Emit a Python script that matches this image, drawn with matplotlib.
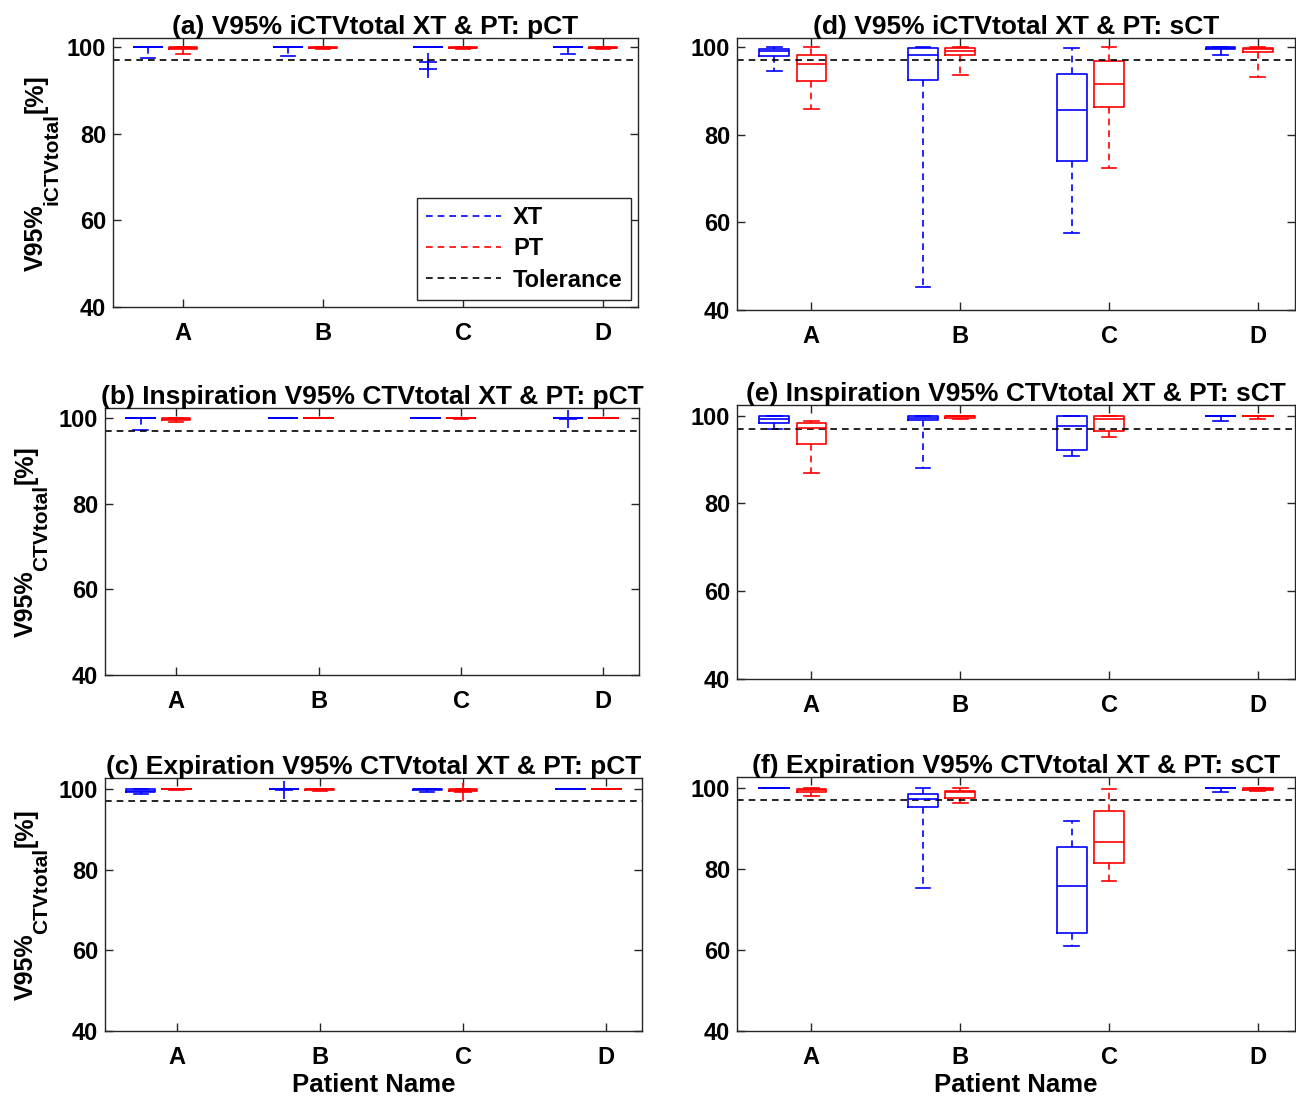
import matplotlib
matplotlib.use("Agg")
import matplotlib.pyplot as plt
from matplotlib.lines import Line2D

plt.rcParams['font.family'] = ['Liberation Sans', 'DejaVu Sans']
plt.rcParams['font.weight'] = 'bold'

patients = ['A', 'B', 'C', 'D']
tolerance = 97

# rows per patient: [whisker low, q1, median, q3, whisker high]
a_xt = [[97.5, 100, 100, 100, 100], [98.0, 100, 100, 100, 100],
        [100, 100, 100, 100, 100], [98.4, 100, 100, 100, 100]]
a_pt = [[98.3, 99.6, 99.8, 100, 100], [99.5, 99.8, 99.9, 100, 100],
        [99.5, 99.8, 99.9, 100, 100], [99.5, 99.7, 99.9, 100, 100]]
a_xt_out = [[], [], [96.6, 95.0], []]
a_pt_out = [[], [], [], []]

b_xt = [[97.2, 100, 100, 100, 100], [100, 100, 100, 100, 100],
        [100, 100, 100, 100, 100], [100, 100, 100, 100, 100]]
b_pt = [[99.1, 99.6, 99.8, 100, 100], [99.9, 100, 100, 100, 100],
        [99.8, 99.9, 100, 100, 100], [100, 100, 100, 100, 100]]
b_xt_out = [[], [], [], [99.8]]
b_pt_out = [[], [], [], []]

c_xt = [[98.7, 99.3, 99.6, 99.9, 100], [100, 100, 100, 100, 100],
        [99.3, 99.7, 99.9, 100, 100], [100, 100, 100, 100, 100]]
c_pt = [[99.8, 99.9, 100, 100, 100], [99.6, 99.7, 99.9, 100, 100],
        [99.5, 99.6, 99.8, 100, 100], [100, 100, 100, 100, 100]]
c_xt_out = [[], [99.8], [], []]
c_pt_out = [[], [], [99.3], []]

d_xt = [[94.5, 98.1, 99.1, 99.6, 100], [45.3, 92.4, 98.3, 99.8, 100],
        [57.5, 74.0, 85.6, 93.9, 99.8], [98.2, 99.6, 99.8, 100, 100]]
d_pt = [[85.8, 92.2, 96.1, 98.3, 100], [93.7, 98.2, 99.1, 99.8, 100],
        [72.4, 86.3, 91.6, 96.9, 100], [93.1, 99.0, 99.5, 99.85, 100]]
d_xt_out = [[], [], [], []]
d_pt_out = [[], [], [], []]

e_xt = [[96.9, 98.4, 99.2, 99.85, 100], [88.0, 98.9, 99.5, 100, 100],
        [90.7, 92.1, 97.7, 99.85, 100], [98.8, 100, 100, 100, 100]]
e_pt = [[87.0, 93.6, 97.1, 98.3, 98.7], [99.3, 99.5, 99.8, 100, 100],
        [95.1, 96.4, 99.1, 99.85, 100], [99.2, 100, 100, 100, 100]]
e_xt_out = [[], [], [], []]
e_pt_out = [[], [], [], []]

f_xt = [[99.9, 99.9, 100, 100, 100], [75.4, 95.2, 97.3, 98.6, 100],
        [60.9, 64.1, 75.8, 85.5, 91.9], [99.0, 100, 100, 100, 100]]
f_pt = [[98.0, 98.9, 99.4, 99.85, 100], [96.2, 97.4, 99.0, 99.3, 100],
        [77.1, 81.5, 86.6, 94.3, 99.8], [99.2, 99.4, 99.7, 100, 100]]
f_xt_out = [[], [], [], []]
f_pt_out = [[], [], [], []]

titles = ['(a) V95% iCTVtotal XT & PT: pCT',
          '(b) Inspiration V95% CTVtotal XT & PT: pCT',
          '(c) Expiration V95% CTVtotal XT & PT: pCT',
          '(d) V95% iCTVtotal XT & PT: sCT',
          '(e) Inspiration V95% CTVtotal XT & PT: sCT',
          '(f) Expiration V95% CTVtotal XT & PT: sCT']
ylabel_main = 'V95%'
ylabel_subs = ['iCTVtotal', 'CTVtotal', 'CTVtotal']
ylabel_unit = '[%]'
xlabel = 'Patient Name'
yticks = [40, 60, 80, 100]

W, H = 1296, 1097
fig = plt.figure(figsize=(W / 100, H / 100), dpi=100)


def rect(left, right, top, bottom):
    return [left / W, 1 - bottom / H, (right - left) / W, (bottom - top) / H]


layout = [
    (rect(113, 638, 38, 307), 102.1, 65),
    (rect(105, 639, 408, 675), 102.3, 67),
    (rect(105, 642, 778, 1031), 102.7, 67),
    (rect(737, 1295, 38, 310), 102.1, None),
    (rect(737, 1295, 405, 679), 102.4, None),
    (rect(737, 1295, 777, 1031), 102.7, None),
]
data = [(a_xt, a_pt, a_xt_out, a_pt_out), (b_xt, b_pt, b_xt_out, b_pt_out),
        (c_xt, c_pt, c_xt_out, c_pt_out), (d_xt, d_pt, d_xt_out, d_pt_out),
        (e_xt, e_pt, e_xt_out, e_pt_out), (f_xt, f_pt, f_xt_out, f_pt_out)]

BLUE, RED = '#0000ff', '#ff0000'
TICKFS = 17
TITLEFS = 19
DASH = (0, (4, 3))


def make_stats(rows, outs):
    st = []
    for r, o in zip(rows, outs):
        st.append(dict(whislo=r[0], q1=r[1], med=r[2], q3=r[3], whishi=r[4], fliers=o))
    return st


def draw(ax, rows, outs, pos, color):
    ax.bxp(make_stats(rows, outs), positions=pos, widths=0.2, capwidths=0.1,
           showfliers=True, manage_ticks=False,
           boxprops=dict(color=color, lw=1.2),
           whiskerprops=dict(color=color, lw=1.2, ls=DASH),
           capprops=dict(color=color, lw=1.2),
           medianprops=dict(color=color, lw=1.2),
           flierprops=dict(marker='+', markeredgecolor=color, markersize=13, mew=1.2, ls='none'))


xs = list(range(1, len(patients) + 1))
ylabel_parts = []
for i, ((r, ytop, yl_off), (xt, pt, xto, pto)) in enumerate(zip(layout, data)):
    ax = fig.add_axes(r)
    draw(ax, xt, xto, [x - 0.25 for x in xs], BLUE)
    draw(ax, pt, pto, xs, RED)
    ax.axhline(tolerance, color='k', lw=1.2, ls=DASH)
    ax.set_xlim(0.5, 4.25)
    ax.set_ylim(40, ytop)
    ax.set_xticks(xs)
    ax.set_xticklabels(patients)
    ax.set_yticks(yticks)
    ax.tick_params(direction='in', top=True, right=True, labelsize=TICKFS, length=6,
                   width=1, color='#262626')
    ax.tick_params(axis='x', pad=10.5)
    ax.tick_params(axis='y', pad=5)
    for lab in ax.get_xticklabels() + ax.get_yticklabels():
        lab.set_fontweight('bold')
    for s in ax.spines.values():
        s.set_color('#262626')
        s.set_linewidth(1)
    ax.set_title(titles[i], fontsize=TITLEFS, fontweight='bold', pad=3)
    if i < 3:
        axw = r[2] * W
        t1 = ax.text(-yl_off / axw, 0.2, ylabel_main, rotation=90, ha='right', va='bottom',
                     fontsize=18, fontweight='bold', transform=ax.transAxes)
        t2 = ax.annotate(ylabel_subs[i], xy=(1, 1), xycoords=t1, xytext=(9.5, 0),
                         textcoords='offset points', rotation=90, ha='right', va='bottom',
                         fontsize=15, fontweight='bold')
        t3 = ax.annotate(ylabel_unit, xy=(1, 1), xycoords=t2, xytext=(-9.5, 0),
                         textcoords='offset points', rotation=90, ha='right', va='bottom',
                         fontsize=18, fontweight='bold')
        ylabel_parts.append((ax, t1, t3))
    if i in (2, 5):
        ax.set_xlabel(xlabel, fontsize=18.5, fontweight='bold', labelpad=3)
    if i == 0:
        handles = [Line2D([], [], color=BLUE, ls=DASH, lw=1.2),
                   Line2D([], [], color=RED, ls=DASH, lw=1.2),
                   Line2D([], [], color='k', ls=DASH, lw=1.2)]
        leg = ax.legend(handles, ['XT', 'PT', 'Tolerance'], loc='lower right',
                        fancybox=False, framealpha=1, edgecolor='#262626',
                        handlelength=3.2, prop=dict(weight='bold', size=17),
                        borderaxespad=0.3, borderpad=0.35, labelspacing=0.35,
                        handletextpad=0.5)
        leg.get_frame().set_linewidth(1)

# center the composed y labels along each axes
fig.canvas.draw()
for ax, t1, t3 in ylabel_parts:
    b1 = t1.get_window_extent()
    b3 = t3.get_window_extent()
    mid = (b1.y0 + b3.y1) / 2
    abox = ax.get_window_extent()
    amid = (abox.y0 + abox.y1) / 2
    dy = (amid - mid) / abox.height
    x, y = t1.get_position()
    t1.set_position((x, y + dy))

fig.savefig('out.png', dpi=100)
